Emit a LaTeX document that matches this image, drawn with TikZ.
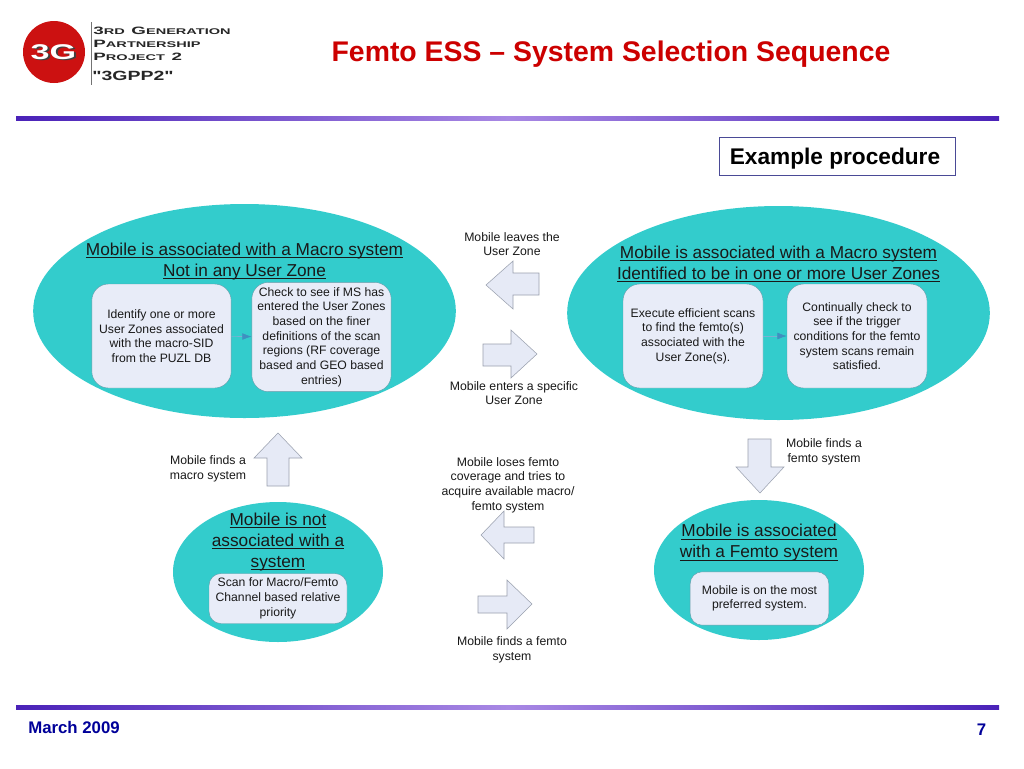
\documentclass[tikz,border=0pt]{standalone}
\usepackage{fontspec}
\setmainfont{Liberation Sans}
\newfontfamily\logofont{Liberation Sans}
\usetikzlibrary{arrows.meta,shapes.geometric}
\definecolor{teal3g}{HTML}{33CCCC}
\definecolor{boxfill}{HTML}{E8ECF8}
\definecolor{boxedge}{HTML}{5F9AA8}
\definecolor{arrfill}{HTML}{E6EAF6}
\definecolor{arredge}{HTML}{9AA0AE}
\definecolor{navy3g}{HTML}{000099}
\definecolor{boxnavy}{HTML}{4A4A96}
\definecolor{rule3g}{HTML}{4A22B8}
\definecolor{rulemid}{HTML}{A888E4}
\definecolor{titlered}{HTML}{CC0000}
\definecolor{logored}{HTML}{CC1111}
\definecolor{arrowblue}{HTML}{3F8FC0}
\newcommand{\fs}[2]{\fontsize{#1}{#2}\selectfont}
\newlength{\ulwidth}
\newcommand{\ulrule}[1]{\settowidth{\ulwidth}{#1}\makebox[0pt][l]{\rule[-1.7pt]{\ulwidth}{0.55pt}}#1}
\tikzset{
  x=0.75pt,y=-0.75pt,
  zone/.style={ellipse,fill=teal3g,draw=none,inner sep=0pt},
  heading/.style={align=center,font=\fs{12.93}{15.75},text=black!90,inner sep=0pt},
  cardbox/.style={draw=boxedge,line width=0.3pt,fill=boxfill,rounded corners=12.5pt,align=center,font=\fs{9.15}{11},inner sep=0pt,text=black!90},
  caption/.style={align=center,font=\fs{9.2}{11},inner sep=0pt,text=black!90},
  blockarrow/.style={draw=arredge,line width=0.4pt,fill=arrfill},
  flow/.style={draw=arrowblue!70,line width=0.4pt,-{Latex[length=7pt,width=5pt,color=arrowblue]}},
  logotext/.style={anchor=west,inner sep=0pt,font=\logofont\bfseries,xscale=1.76,text=black!85},
}
\newcommand{\scword}[2]{{\fs{8}{8}#1}{\fs{6.2}{8}#2}}
\begin{document}
\begin{tikzpicture}
\useasboundingbox (0,0) rectangle (1024,768);
\fill[white] (0,0) rectangle (1024,768);

% logo
\node[circle,fill=logored,minimum size=46.5pt,inner sep=0pt] (logo) at (54,52) {};
\node[text=black!75,font=\bfseries\fs{16}{17},xscale=1.6] (logoshadow) at (55.5,53.5) {3G};
\node[text=white,font=\bfseries\fs{16}{17},xscale=1.6] (logotxt) at (53.5,52) {3G};
\coordinate (logoa) at (91,22);
\coordinate (logob) at (91,85);
\draw[black!55,line width=0.5pt] (logoa) -- (logob);
\node[logotext] (l1) at (93,31) {\scword{3}{RD} \scword{G}{ENERATION}};
\node[logotext] (l2) at (93,44) {\scword{P}{ARTNERSHIP}};
\node[logotext] (l3) at (93,57) {\scword{P}{ROJECT} \scword{2}{}};
\node[anchor=west,inner sep=0pt,text=black!85,font=\logofont\bfseries\fs{10}{10},xscale=1.46] (l4) at (92,76) {"3GPP2"};

% title
\node[text=titlered,font=\bfseries\fs{21.3}{24},inner sep=0pt] (title) at (611,54) {Femto ESS – System Selection Sequence};

% rules
\shade[left color=rule3g,right color=rulemid] (16,116) rectangle (508,120);
\shade[left color=rulemid,right color=rule3g] (507.5,116) rectangle (999,120);
\shade[left color=rule3g,right color=rulemid] (16,705) rectangle (508,709);
\shade[left color=rulemid,right color=rule3g] (507.5,705) rectangle (999,709);

% example box
\node[draw=boxnavy,line width=0.7pt,fill=white,minimum width=177.5pt,minimum height=29pt,inner sep=0pt] (example) at (837.5,156.5) {};
\node[inner sep=0pt,font=\bfseries\fs{17}{20},text=black] (exampletxt) at (835,158.5) {Example procedure};

% zones
\node[zone,minimum width=317pt,minimum height=160.5pt] (z1) at (244.5,311) {};
\node[zone,minimum width=317pt,minimum height=160.5pt] (z2) at (778.5,313) {};
\node[zone,minimum width=157.5pt,minimum height=105pt] (z3) at (278,572) {};
\node[zone,minimum width=157.5pt,minimum height=105pt] (z4) at (759,570) {};

% headings
\node[heading] (h1) at (244.5,262) {\ulrule{Mobile is associated with a Macro system}\\\ulrule{Not in any User Zone}};
\node[heading] (h2) at (778.5,264) {\ulrule{Mobile is associated with a Macro system}\\\ulrule{Identified to be in one or more User Zones}};
\node[heading] (h3) at (278,542) {\ulrule{Mobile is not}\\\ulrule{associated with a}\\\ulrule{system}};
\node[heading] (h4) at (759,543) {\ulrule{Mobile is associated}\\\ulrule{with a Femto system}};

% cards
\node[cardbox,minimum width=104.5pt,minimum height=78pt] (a1) at (161.5,336) {Identify one or more\\User Zones associated\\with the macro-SID\\from the PUZL DB};
\node[cardbox,minimum width=104.5pt,minimum height=82pt] (a2) at (321.5,337) {Check to see if MS has\\entered the User Zones\\based on the finer\\definitions of the scan\\regions (RF coverage\\based and GEO based\\entries)};
\node[cardbox,minimum width=105pt,minimum height=78pt] (b1) at (693,336) {Execute efficient scans\\to find the femto(s)\\associated with the\\User Zone(s).};
\node[cardbox,minimum width=105pt,minimum height=78pt] (b2) at (857,336) {Continually check to\\see if the trigger\\conditions for the femto\\system scans remain\\satisfied.};
\node[cardbox,rounded corners=9pt,minimum width=103.5pt,minimum height=37.5pt] (c1) at (278,598.5) {Scan for Macro/Femto\\Channel based relative\\priority};
\node[cardbox,rounded corners=9pt,minimum width=104pt,minimum height=40pt] (d1) at (759.5,598.5) {Mobile is on the most\\preferred system.};

\draw[flow] (a1) -- (a2);
\draw[flow] (b1) -- (b2);

% block arrows
\draw[blockarrow] (486,285) -- (513,261) -- (513,273) -- (539,273) -- (539,295) -- (513,295) -- (513,309) -- cycle;
\draw[blockarrow] (537,354) -- (511,330) -- (511,344) -- (483,344) -- (483,366) -- (511,366) -- (511,378) -- cycle;
\draw[blockarrow] (481,535) -- (504,511) -- (504,527) -- (534,527) -- (534,543) -- (504,543) -- (504,559) -- cycle;
\draw[blockarrow] (532,604) -- (507,580) -- (507,596) -- (478,596) -- (478,613) -- (507,613) -- (507,629) -- cycle;
\draw[blockarrow] (278,433) -- (302,458) -- (289,458) -- (289,486) -- (267,486) -- (267,458) -- (254,458) -- cycle;
\draw[blockarrow] (760,493) -- (784,467) -- (771,467) -- (771,439) -- (748,439) -- (748,467) -- (736,467) -- cycle;

% captions
\node[caption] (t1) at (512,244) {Mobile leaves the\\User Zone};
\node[caption] (t2) at (514,393) {Mobile enters a specific\\User Zone};
\node[caption] (t3) at (208,469) {Mobile finds a\\macro system};
\node[caption] (t4) at (508,485) {Mobile loses femto\\coverage and tries to\\acquire available macro/\\femto system};
\node[caption] (t5) at (824,452) {Mobile finds a\\femto system};
\node[caption] (t6) at (512,650) {Mobile finds a femto\\system};

% footer
\node[text=navy3g,font=\bfseries\fs{12.6}{14},inner sep=0pt,anchor=west] (date) at (28,727) {March 2009};
\node[text=navy3g,font=\bfseries\fs{12.6}{14},inner sep=0pt] (page) at (981.5,730) {7};
\end{tikzpicture}
\end{document}
